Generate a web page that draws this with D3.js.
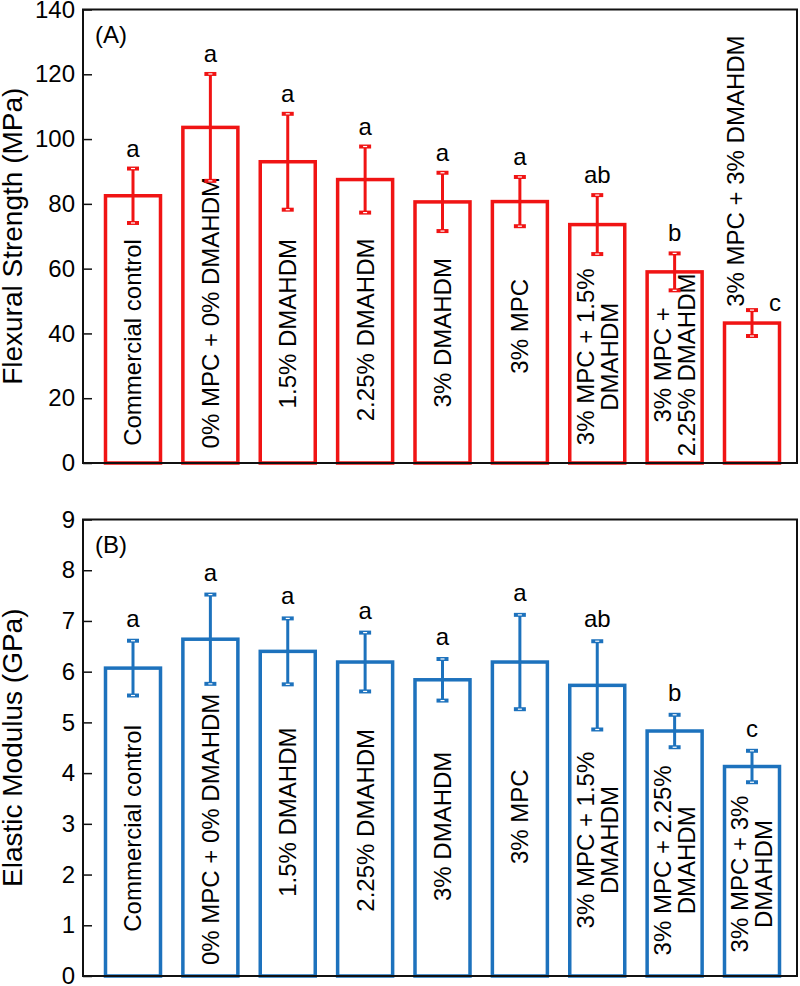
<!DOCTYPE html>
<html>
<head>
<meta charset="utf-8">
<script src="https://cdn.jsdelivr.net/npm/d3@7"></script>
<style>
  body { margin: 0; background: #fff; }
  svg { display: block; }
  text { font-family: "Liberation Sans", Arial, sans-serif; fill: #000; }
</style>
</head>
<body>
<svg id="chart" width="800" height="986"></svg>
<script>
// ---------- data ----------
const categories = [
  "Commercial control", "0% MPC + 0% DMAHDM", "1.5% DMAHDM", "2.25% DMAHDM",
  "3% DMAHDM", "3% MPC", "3% MPC + 1.5% DMAHDM", "3% MPC + 2.25% DMAHDM",
  "3% MPC + 3% DMAHDM"
];
// label line breaks as printed in each panel
const labelLinesA = [
  ["Commercial control"], ["0% MPC + 0% DMAHDM"], ["1.5% DMAHDM"], ["2.25% DMAHDM"],
  ["3% DMAHDM"], ["3% MPC"], ["3% MPC + 1.5%", "DMAHDM"], ["3% MPC +", "2.25% DMAHDM"],
  ["3% MPC + 3% DMAHDM"]
];
const labelLinesB = [
  ["Commercial control"], ["0% MPC + 0% DMAHDM"], ["1.5% DMAHDM"], ["2.25% DMAHDM"],
  ["3% DMAHDM"], ["3% MPC"], ["3% MPC + 1.5%", "DMAHDM"], ["3% MPC + 2.25%", "DMAHDM"],
  ["3% MPC + 3%", "DMAHDM"]
];

const flexMean = [82.5, 103.6, 93.0, 87.5, 80.6, 80.7, 73.6, 59.0, 43.2];
const flexErr  = [8.4, 16.5, 14.8, 10.2, 9.0, 7.6, 9.1, 5.7, 4.0];
const flexLetters = ["a", "a", "a", "a", "a", "a", "ab", "b", "c"];

const modMean = [6.07, 6.64, 6.40, 6.19, 5.84, 6.19, 5.73, 4.83, 4.13];
const modErr  = [0.54, 0.88, 0.65, 0.58, 0.41, 0.93, 0.87, 0.32, 0.31];
const modLetters = ["a", "a", "a", "a", "a", "a", "ab", "b", "c"];

const yTicksA = [0, 20, 40, 60, 80, 100, 120, 140];
const yTicksB = [0, 1, 2, 3, 4, 5, 6, 7, 8, 9];

// layout config: where the rotated bar labels are centred (in axis units)
const labelMidA = [37.2, 46.4, 43.0, 41.1, 40.2, 42.2, 32.8, 30.3, 90.1];
const labelMidB = [2.91, 2.89, 3.23, 3.07, 2.95, 3.14, 2.68, 2.28, 2.01];

// ---------- drawing ----------
const svg = d3.select("#chart");
const left = 83, right = 797;
const x = d3.scalePoint().domain(categories).range([133, 752]);
const barW = 55;

function panel(cfg) {
  const y = d3.scaleLinear().domain(cfg.domain).range([cfg.bottom, cfg.top]);
  const g = svg.append("g");
  const col = cfg.color;

  // bars
  g.selectAll("rect.bar").data(cfg.mean).join("rect")
    .attr("class", "bar")
    .attr("x", (d, i) => x(categories[i]) - barW / 2)
    .attr("y", d => y(d))
    .attr("width", barW)
    .attr("height", d => y(0) - y(d))
    .attr("fill", "#fff")
    .attr("stroke", col)
    .attr("stroke-width", 3.5);

  // rotated bar labels
  cfg.lines.forEach((lines, i) => {
    let cx = x(categories[i]);
    if (cfg.labelDx && cfg.labelDx[i]) cx += cfg.labelDx[i];
    const cy = y(cfg.mid[i]);
    const t = g.append("text")
      .attr("transform", `translate(${cx},${cy}) rotate(-90)`)
      .attr("text-anchor", "middle")
      .style("font-size", "24px");
    const n = lines.length;
    lines.forEach((ln, k) => {
      t.append("tspan")
        .attr("x", 0)
        .attr("y", (k - (n - 1) / 2) * 24)
        .attr("dy", "0.35em")
        .text(ln);
    });
  });

  // error bars
  cfg.mean.forEach((m, i) => {
    const cx = x(categories[i]);
    const e = cfg.err[i];
    g.append("line")
      .attr("x1", cx).attr("x2", cx)
      .attr("y1", y(m + e)).attr("y2", y(m - e))
      .attr("stroke", col).attr("stroke-width", 3);
    [m + e, m - e].forEach(v => {
      g.append("line")
        .attr("x1", cx - 6).attr("x2", cx + 6)
        .attr("y1", y(v)).attr("y2", y(v))
        .attr("stroke", col).attr("stroke-width", 4);
      g.append("line")
        .attr("x1", cx - 2).attr("x2", cx + 2)
        .attr("y1", y(v)).attr("y2", y(v))
        .attr("stroke", "#fff").attr("stroke-width", 1.2);
    });
    // significance letters
    let lx = cx, ly = y(m + e) - cfg.letterGap;
    if (cfg.letterSide && cfg.letterSide[i]) { lx = cx + 23; ly = y(m + e) + 1; }
    g.append("text")
      .attr("x", lx).attr("y", ly)
      .attr("text-anchor", "middle")
      .style("font-size", "24px")
      .text(cfg.letters[i]);
  });

  // axis
  const ax = d3.axisLeft(y).tickValues(cfg.ticks).tickSizeInner(-9).tickSizeOuter(0).tickPadding(8);
  const axg = g.append("g").attr("transform", `translate(${left},0)`).call(ax);
  axg.select(".domain").remove();
  axg.selectAll(".tick line").attr("stroke", "#111").attr("stroke-width", 1.5);
  axg.selectAll(".tick text")
    .style("font-size", "24px")
    .style("font-family", '"Liberation Sans", Arial, sans-serif')
    .attr("fill", "#000");

  // frame
  g.append("rect")
    .attr("x", left).attr("y", cfg.top)
    .attr("width", right - left).attr("height", cfg.bottom - cfg.top)
    .attr("fill", "none").attr("stroke", "#111").attr("stroke-width", 2);

  // panel tag
  g.append("text")
    .attr("x", 95).attr("y", cfg.top + 33)
    .style("font-size", "24px")
    .text(cfg.tag);

  // axis title
  g.append("text")
    .attr("transform", `translate(22,${(cfg.top + cfg.bottom) / 2}) rotate(-90)`)
    .attr("text-anchor", "middle")
    .style("font-size", "28px")
    .text(cfg.title);
}

panel({
  domain: [0, 140], top: 9.5, bottom: 463, color: "#f01414",
  mean: flexMean, err: flexErr, letters: flexLetters, ticks: yTicksA,
  lines: labelLinesA, mid: labelMidA, labelDx: [0, 0, 0, 0, 0, 0, 0, 0, -16],
  letterSide: [false, false, false, false, false, false, false, false, true],
  letterGap: 12, tag: "(A)", title: "Flexural Strength (MPa)"
});

panel({
  domain: [0, 9], top: 519.5, bottom: 976, color: "#1d72bd",
  mean: modMean, err: modErr, letters: modLetters, ticks: yTicksB,
  lines: labelLinesB, mid: labelMidB,
  letterGap: 14, tag: "(B)", title: "Elastic Modulus (GPa)"
});
</script>
</body>
</html>
